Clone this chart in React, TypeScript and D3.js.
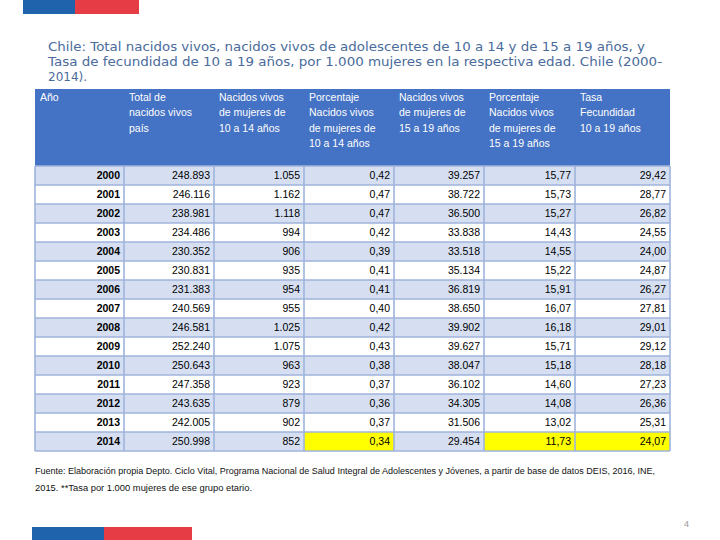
import React from "react";
import * as d3 from "d3";

const years = [2000, 2001, 2002, 2003, 2004, 2005, 2006, 2007, 2008, 2009, 2010, 2011, 2012, 2013, 2014];
const totalNacidos = [248893, 246116, 238981, 234486, 230352, 230831, 231383, 240569, 246581, 252240, 250643, 247358, 243635, 242005, 250998];
const nacidos1014 = [1055, 1162, 1118, 994, 906, 935, 954, 955, 1025, 1075, 963, 923, 879, 902, 852];
const pct1014 = [0.42, 0.47, 0.47, 0.42, 0.39, 0.41, 0.41, 0.40, 0.42, 0.43, 0.38, 0.37, 0.36, 0.37, 0.34];
const nacidos1519 = [39257, 38722, 36500, 33838, 33518, 35134, 36819, 38650, 39902, 39627, 38047, 36102, 34305, 31506, 29454];
const pct1519 = [15.77, 15.73, 15.27, 14.43, 14.55, 15.22, 15.91, 16.07, 16.18, 15.71, 15.18, 14.60, 14.08, 13.02, 11.73];
const tasa = [29.42, 28.77, 26.82, 24.55, 24.0, 24.87, 26.27, 27.81, 29.01, 29.12, 28.18, 27.23, 26.36, 25.31, 24.07];

const headers = [
  ["Año"],
  ["Total de", "nacidos vivos", "país"],
  ["Nacidos vivos", "de mujeres de", "10 a 14 años"],
  ["Porcentaje", "Nacidos vivos", "de mujeres de", "10 a 14 años"],
  ["Nacidos vivos", "de mujeres de", "15 a 19 años"],
  ["Porcentaje", "Nacidos vivos", "de mujeres de", "15 a 19 años"],
  ["Tasa", "Fecundidad", "10 a 19 años"],
];

const titleLines = [
  "Chile: Total nacidos vivos, nacidos vivos de adolescentes de 10 a 14 y de 15 a 19 años, y",
  "Tasa de fecundidad de 10 a 19 años, por 1.000 mujeres en la respectiva edad. Chile (2000-",
  "2014).",
];

const footLines = [
  "Fuente: Elaboración propia Depto. Ciclo Vital, Programa Nacional de Salud Integral de Adolescentes y Jóvenes, a partir de base de datos DEIS, 2016, INE,",
  "2015. **Tasa por 1.000 mujeres de ese grupo etario.",
];

const highlightYear = 2014;
const highlightCols = [3, 5, 6];

const locale = d3.formatLocale({ decimal: ",", thousands: ".", grouping: [3], currency: ["$", ""] });
const fInt = locale.format(",d");
const fDec = locale.format(".2f");

export default function App() {
  const W = 720, H = 540;
  const colEdges = [35, 124, 214, 304, 394, 484, 575, 670];
  const headerTop = 89, tableTop = 166, tableBottom = 451;
  const yRow = d3.scaleBand<number>().domain(years).range([tableTop, tableBottom]);
  const rowH = yRow.bandwidth();

  const columns: string[][] = years.map((yr, i) => [
    String(yr),
    fInt(totalNacidos[i]),
    fInt(nacidos1014[i]),
    fDec(pct1014[i]),
    fInt(nacidos1519[i]),
    fDec(pct1519[i]),
    fDec(tasa[i]),
  ]);

  const gridColor = "#9fb3db";
  const textFont = "'Liberation Sans', Arial, sans-serif";

  return (
    <svg width={W} height={H} style={{ position: "absolute", left: 0, top: 0, background: "#fff" }}>
      {/* top flag bar */}
      <rect x={23} y={0} width={52} height={14} fill="#1f63ad" />
      <rect x={75} y={0} width={64} height={14} fill="#e63c46" />

      {/* title */}
      {titleLines.map((t, i) => (
        <text
          key={i}
          x={48}
          y={51 + i * 15}
          fontFamily="'DejaVu Sans', Verdana, sans-serif"
          fontSize={12}
          fill="#4a6b9c"
          textLength={i === 0 ? 597 : i === 1 ? 614 : undefined}
          lengthAdjust="spacingAndGlyphs"
        >
          {t}
        </text>
      ))}

      {/* header */}
      <rect x={colEdges[0]} y={headerTop} width={colEdges[7] - colEdges[0]} height={tableTop - headerTop} fill="#4472c4" />
      {headers.map((lines, c) =>
        lines.map((ln, j) => (
          <text
            key={`h${c}-${j}`}
            x={colEdges[c] + 5}
            y={101 + j * 15.3}
            fontFamily={textFont}
            fontSize={10.5}
            fill="#ffffff"
          >
            {ln}
          </text>
        ))
      )}

      {/* rows */}
      {years.map((yr, i) => (
        <g key={yr}>
          <rect
            x={colEdges[0]}
            y={yRow(yr)!}
            width={colEdges[7] - colEdges[0]}
            height={rowH}
            fill={i % 2 === 0 ? "#d6dff2" : "#ffffff"}
          />
          {yr === highlightYear &&
            highlightCols.map((c) => (
              <rect key={c} x={colEdges[c]} y={yRow(yr)!} width={colEdges[c + 1] - colEdges[c]} height={rowH} fill="#ffff00" />
            ))}
        </g>
      ))}

      {/* grid */}
      {years.map((yr) => (
        <line key={`hl${yr}`} x1={colEdges[0]} x2={colEdges[7]} y1={yRow(yr)!} y2={yRow(yr)!} stroke={gridColor} strokeWidth={1.6} />
      ))}
      <line x1={colEdges[0]} x2={colEdges[7]} y1={tableBottom} y2={tableBottom} stroke={gridColor} strokeWidth={1.6} />
      {colEdges.map((x, k) => (
        <line key={`vl${k}`} x1={x} x2={x} y1={tableTop} y2={tableBottom} stroke={gridColor} strokeWidth={1.6} />
      ))}

      {/* cell text */}
      {years.map((yr, i) =>
        columns[i].map((v, c) => (
          <text
            key={`t${yr}-${c}`}
            x={colEdges[c + 1] - 4}
            y={yRow(yr)! + rowH / 2 + 3.8}
            textAnchor="end"
            fontFamily={textFont}
            fontSize={10.5}
            fontWeight={c === 0 ? "bold" : "normal"}
            fill="#000"
          >
            {v}
          </text>
        ))
      )}

      {/* footnote */}
      {footLines.map((t, i) => (
        <text
          key={`f${i}`}
          x={35}
          y={474 + i * 17}
          fontFamily={textFont}
          fontSize={8.5}
          fill="#111"
          textLength={i === 0 ? 620 : 217}
          lengthAdjust="spacingAndGlyphs"
        >
          {t}
        </text>
      ))}

      {/* bottom flag bar */}
      <rect x={32} y={527} width={72} height={13} fill="#1f63ad" />
      <rect x={104} y={527} width={88} height={13} fill="#e63c46" />

      {/* page number */}
      <text x={684} y={527} fontFamily={textFont} fontSize={9} fill="#999">4</text>
    </svg>
  );
}
